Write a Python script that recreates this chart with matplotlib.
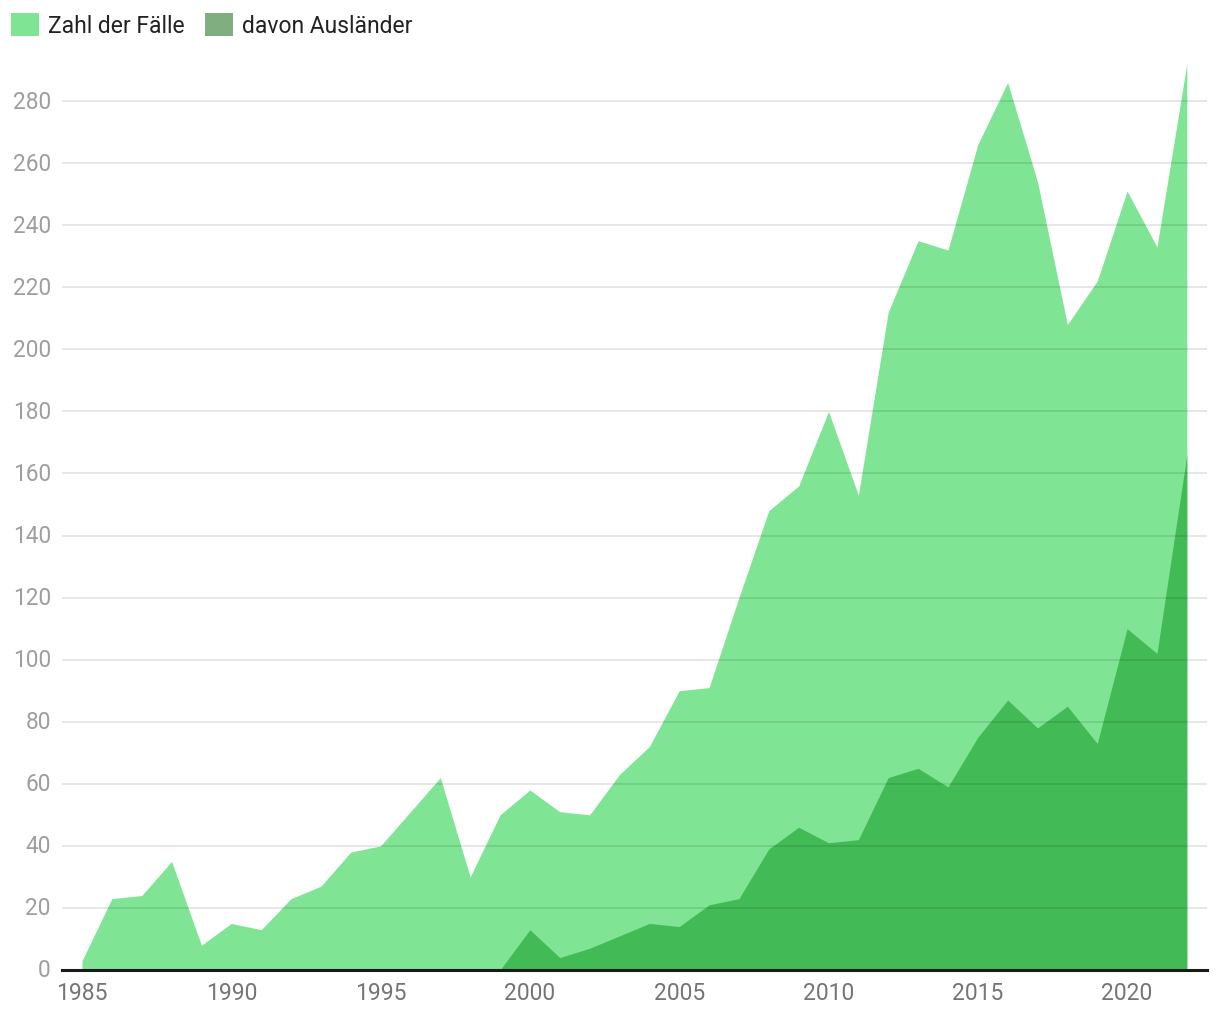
import matplotlib
matplotlib.use("Agg")
import matplotlib.pyplot as plt
from matplotlib.patches import Patch
import numpy as np

years_total = list(range(1985, 2023))
total_cases = [3, 23, 24, 35, 8, 15, 13, 23, 27, 38, 40, 51, 62, 30, 50, 58, 51, 50, 63, 72,
               90, 91, 120, 148, 156, 180, 153, 212, 235, 232, 266, 286, 254, 208, 222, 251, 233, 292]
years_foreign = list(range(1999, 2023))
foreign_cases = [0, 13, 4, 7, 11, 15, 14, 21, 23, 39, 46, 41, 42, 62, 65, 59, 75, 87, 78, 85,
                 73, 110, 102, 166]
labels = ["Zahl der Fälle", "davon Ausländer"]
x_ticks = [1985, 1990, 1995, 2000, 2005, 2010, 2015, 2020]
y_ticks = list(range(0, 281, 20))

plt.rcParams['font.family'] = ['Roboto', 'DejaVu Sans']

fig = plt.figure(figsize=(12.2, 10.2), dpi=100)
ax = fig.add_axes([62/1220, 1-971/1020, (1207-62)/1220, (971-40)/1020])

light = "#80e495"
dark = "#42ba55"
ax.fill_between(years_total, 0, total_cases, color=light, lw=0, zorder=1)
ax.fill_between(years_foreign, 0, foreign_cases, color=dark, lw=0, zorder=2)

px_per_year = 29.86
ax.set_xlim(1985 - 20/px_per_year, 1985 + (1207-82)/px_per_year)
ax.set_ylim(0, 300)
ax.set_yticks(y_ticks)
ax.set_xticks(x_ticks)
ax.set_axisbelow(False)
ax.grid(axis='y', color='#000000', alpha=0.1, lw=1.3, zorder=3)
ax.grid(axis='x', visible=False)
for s in ['top', 'right', 'left']:
    ax.spines[s].set_visible(False)
ax.spines['bottom'].set_color('#1a1a1a')
ax.spines['bottom'].set_linewidth(2.2)
ax.spines['bottom'].set_zorder(5)
ax.tick_params(axis='y', length=0, pad=8, labelsize=16.3, labelcolor='#9e9e9e')
ax.tick_params(axis='x', length=0, pad=8, labelsize=16.5, labelcolor='#757575')
for lab in ax.get_yticklabels():
    lab.set_verticalalignment('center')

handles = [Patch(facecolor=light, edgecolor='none', label=labels[0]),
           Patch(facecolor="#80ae80", edgecolor='none', label=labels[1])]
fig.legend(handles=handles, loc='upper left', bbox_to_anchor=(-0.002, 1.0), ncol=2,
           frameon=False, fontsize=16.5, handlelength=1.2, handleheight=1.2,
           handletextpad=0.4, columnspacing=0.9, borderaxespad=0.2, labelcolor='#222222')

fig.savefig("out.png", dpi=100, facecolor='white')
